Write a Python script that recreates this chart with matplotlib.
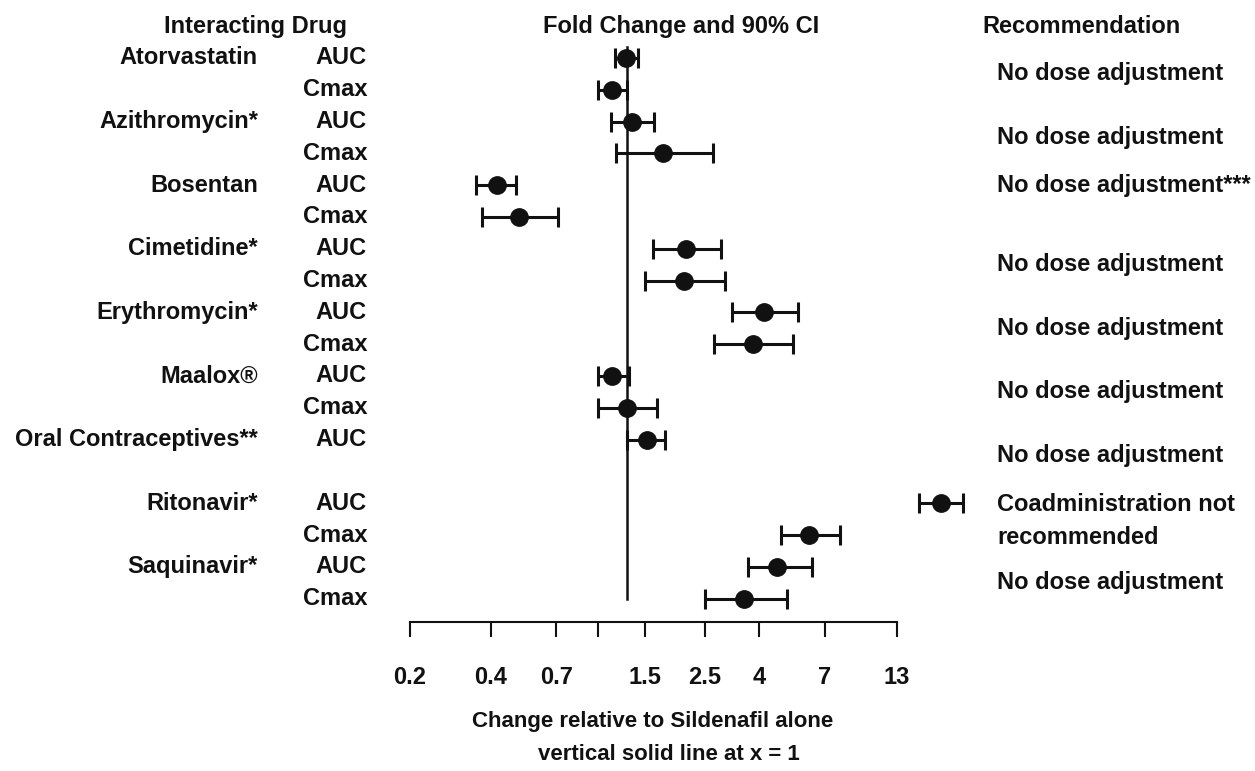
import numpy as np
import matplotlib
matplotlib.use("Agg")
import matplotlib.pyplot as plt
import matplotlib.transforms as mtransforms

plt.rcParams['font.family'] = ['Liberation Sans', 'DejaVu Sans']
plt.rcParams['font.weight'] = 'bold'

# data: fold change and 90% CI, one entry per plotted row
drugs = ["Atorvastatin", "Azithromycin*", "Bosentan", "Cimetidine*", "Erythromycin*",
         "Maalox®", "Oral Contraceptives**", "Ritonavir*", "Saquinavir*"]
drug_rows = [0, 2, 4, 6, 8, 10, 12, 14, 16]
params = ["AUC", "Cmax", "AUC", "Cmax", "AUC", "Cmax", "AUC", "Cmax", "AUC", "Cmax",
          "AUC", "Cmax", "AUC", "AUC", "Cmax", "AUC", "Cmax"]
rows = [0, 1, 2, 3, 4, 5, 6, 7, 8, 9, 10, 11, 12, 14, 15, 16, 17]
fold = [0.99, 0.89, 1.04, 1.32, 0.37, 0.44, 1.57, 1.55, 2.85, 2.62,
        0.89, 1.00, 1.165, 11.0, 4.0, 3.14, 2.44]
ci_lo = [0.91, 0.80, 0.885, 0.92, 0.316, 0.33, 1.22, 1.15, 2.23, 1.94,
         0.80, 0.80, 1.0, 9.3, 3.24, 2.52, 1.81]
ci_hi = [1.09, 1.00, 1.23, 1.93, 0.43, 0.59, 2.05, 2.11, 3.69, 3.55,
         1.015, 1.26, 1.34, 13.0, 5.08, 4.1, 3.39]
recs = ["No dose adjustment", "No dose adjustment", "No dose adjustment***",
        "No dose adjustment", "No dose adjustment", "No dose adjustment",
        "No dose adjustment", "Coadministration not\nrecommended", "No dose adjustment"]
rec_rows = [0.5, 2.5, 4.0, 6.5, 8.5, 10.5, 12.5, 14.55, 16.5]

axis_ticks = [0.2, 0.4, 0.7, 1, 1.5, 2.5, 4, 7, 13]
axis_labels = ["0.2", "0.4", "0.7", "", "1.5", "2.5", "4", "7", "13"]

W, H = 1255, 771
INK = "#111111"

# layout calibration (pixels)
px_one, px_per_ln = 627, 131.0
row0, row_step = 58, 31.8

fig = plt.figure(figsize=(W / 100, H / 100), dpi=100)
ax = fig.add_axes([0, 0, 1, 1])
ax.set_xscale("log")
ax.set_xlim(np.exp((0 - px_one) / px_per_ln), np.exp((W - px_one) / px_per_ln))
ax.set_ylim((H - row0) / row_step, -row0 / row_step)
ax.axis("off")

fold = np.array(fold)
xerr = [fold - np.array(ci_lo), np.array(ci_hi) - fold]
ax.errorbar(fold, rows, xerr=xerr, fmt="o", color=INK, ms=12.5, elinewidth=2.2,
            capsize=7.5, capthick=2.2)
ax.plot([1, 1], [-0.35, 17.0], color=INK, lw=1.8)

tr = mtransforms.blended_transform_factory(fig.transFigure, ax.transData)
fs = 17
for name, r in zip(drugs, drug_rows):
    ax.text(258 / W, r, name, transform=tr, ha="right", va="center", fontsize=fs, color=INK)
for p, r in zip(params, rows):
    ax.text(367 / W, r, p, transform=tr, ha="right", va="center", fontsize=fs, color=INK)
for t, r in zip(recs, rec_rows):
    ax.text(997 / W, r, t, transform=tr, ha="left", va="center", fontsize=fs,
            color=INK, linespacing=1.55)

ax.text(256 / W, -1.0, "Interacting Drug", transform=tr, ha="center", va="center", fontsize=fs, color=INK)
ax.text(681 / W, -1.0, "Fold Change and 90% CI", transform=tr, ha="center", va="center", fontsize=fs, color=INK)
ax.text(982 / W, -1.0, "Recommendation", transform=tr, ha="left", va="center", fontsize=fs, color=INK)

# separate scale axis as drawn in the source figure
sx = fig.add_axes([410 / W, 1 - 622 / H, 487 / W, 0.0001])
sx.set_xscale("log")
sx.set_xlim(0.2, 13)
sx.set_yticks([])
for s in ["top", "left", "right"]:
    sx.spines[s].set_visible(False)
sx.spines["bottom"].set_linewidth(1.5)
sx.spines["bottom"].set_color(INK)
sx.set_xticks(axis_ticks)
sx.set_xticklabels(axis_labels)
sx.xaxis.set_minor_locator(matplotlib.ticker.NullLocator())
sx.tick_params(axis="x", direction="out", length=11, width=1.5, pad=21,
               labelsize=17, colors=INK)

fig.text(653 / W, 1 - 722 / H, "Change relative to Sildenafil alone", ha="center",
         va="center", fontsize=16, color=INK)
fig.text(669 / W, 1 - 755 / H, "vertical solid line at x = 1", ha="center",
         va="center", fontsize=16, color=INK)

fig.savefig("out.png", dpi=100, facecolor="white")
